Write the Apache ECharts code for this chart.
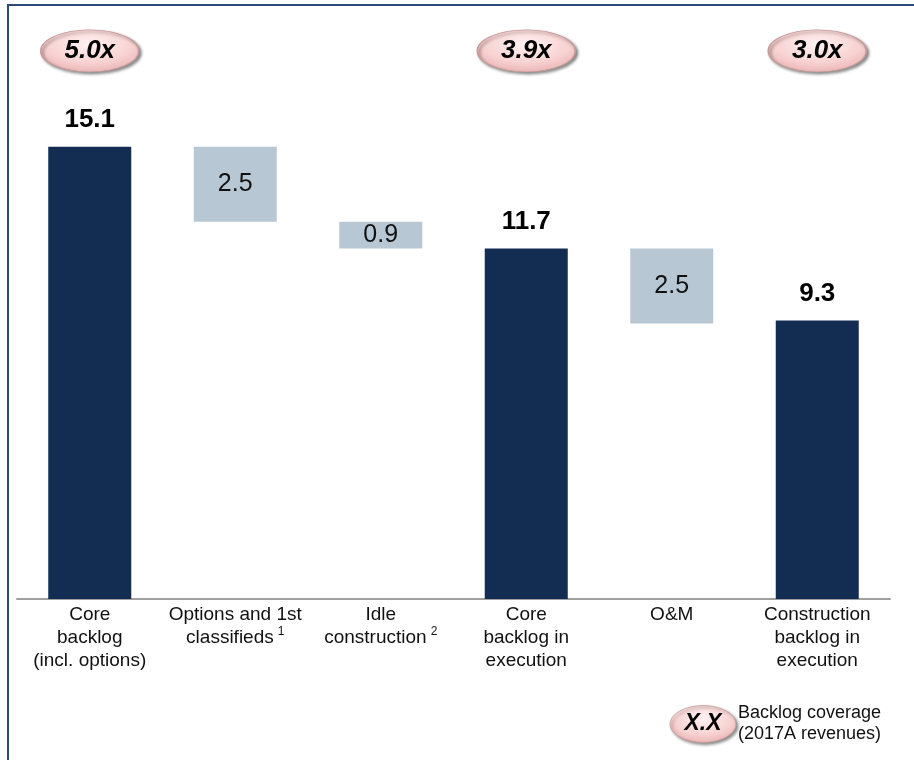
<!DOCTYPE html>
<html>
<head>
<meta charset="utf-8">
<script src="https://cdn.jsdelivr.net/npm/echarts@6/dist/echarts.min.js"></script>
<style>
  html, body { margin: 0; padding: 0; background: #ffffff; }
  #chart { width: 914px; height: 760px; }
</style>
</head>
<body>
<div id="chart"></div>
<script>
// ---- data ----
const categories = [
  'Core\nbacklog\n(incl. options)',
  'Options and 1st\nclassifieds{sup|1}',
  'Idle\nconstruction{sup|2}',
  'Core\nbacklog in\nexecution',
  'O&M',
  'Construction\nbacklog in\nexecution'
];
const totals   = [15.1, null, null, 11.7, null, 9.3];
const deltas   = [null, 2.5, 0.9, null, 2.5, null];
const coverage = ['5.0x', null, null, '3.9x', null, '3.0x'];
const legendBadge = 'X.X';
const legendText = 'Backlog coverage\n(2017A revenues)';

// ---- derived waterfall bases ----
const bases = [];
let level = 0;
categories.forEach((c, i) => {
  if (totals[i] != null) { level = totals[i]; bases.push(0); }
  else { level = level - deltas[i]; bases.push(level); }
});

const FONT = 'Arial, "Liberation Sans", sans-serif';
const DARK = '#132d52';
const LIGHT = '#b7c7d4';
const BADGE_LEVEL = 18.3;

const badgeFill = {
  type: 'radial', x: 0.5, y: 0.35, r: 0.7,
  colorStops: [
    { offset: 0, color: '#fff2f2' },
    { offset: 0.6, color: '#f8d2d2' },
    { offset: 1, color: '#e8b0b0' }
  ]
};

const mainData = categories.map((c, i) => {
  if (totals[i] != null) {
    return {
      value: totals[i],
      itemStyle: { color: DARK },
      label: {
        show: true, position: 'top', distance: 14,
        fontSize: 26, fontWeight: 'bold', color: '#000', fontFamily: FONT,
        formatter: String(totals[i].toFixed(1))
      }
    };
  }
  return {
    value: deltas[i],
    itemStyle: { color: LIGHT },
    label: {
      show: true, position: 'inside',
      fontSize: 25, color: '#111', fontFamily: FONT,
      formatter: String(deltas[i].toFixed(1))
    }
  };
});

const badgeData = [];
coverage.forEach((c, i) => { if (c) badgeData.push({ value: [i, BADGE_LEVEL], name: c }); });

const chart = echarts.init(document.getElementById('chart'), null, { renderer: 'canvas' });
chart.setOption({
  animation: false,
  backgroundColor: '#ffffff',
  grid: { left: 17, right: 24, top: 0, bottom: 161, containLabel: false },
  xAxis: {
    type: 'category',
    data: categories,
    axisLine: { show: true, lineStyle: { color: '#a0a0a0', width: 2 } },
    axisTick: { show: false },
    axisLabel: {
      interval: 0, margin: 4,
      fontFamily: FONT, fontSize: 19, lineHeight: 23, color: '#111',
      rich: { sup: { fontSize: 12, verticalAlign: 'top', padding: [0, 0, 8, 4], fontFamily: FONT, color: '#111' } }
    },
    splitLine: { show: false }
  },
  yAxis: { type: 'value', min: 0, max: 20, show: false, splitLine: { show: false } },
  series: [
    {
      type: 'bar', stack: 'w', barWidth: 83,
      data: bases,
      itemStyle: { color: 'transparent' },
      silent: true
    },
    {
      type: 'bar', stack: 'w', barWidth: 83,
      data: mainData
    },
    {
      type: 'scatter',
      data: badgeData,
      symbol: 'circle',
      symbolSize: [98, 42],
      itemStyle: {
        opacity: 1,
        color: badgeFill,
        borderColor: '#c99a9a', borderWidth: 1,
        shadowColor: 'rgba(0,0,0,0.45)', shadowBlur: 3, shadowOffsetY: 2, shadowOffsetX: 2
      },
      label: {
        show: true, position: 'inside',
        formatter: p => p.name,
        fontFamily: FONT, fontSize: 26, fontWeight: 'bold', fontStyle: 'italic', color: '#000'
      },
      emphasis: { disabled: true },
      z: 5
    }
  ],
  graphic: [
    {
      type: 'rect', z: -1, silent: true,
      shape: { x: 8, y: 5, width: 1000, height: 1000 },
      style: { fill: 'none', stroke: '#2e4a76', lineWidth: 2 }
    },
    {
      type: 'circle', silent: true,
      x: 703, y: 724, scaleY: 0.56,
      shape: { cx: 0, cy: 0, r: 33 },
      style: {
        fill: badgeFill, stroke: '#c99a9a', lineWidth: 1,
        shadowColor: 'rgba(0,0,0,0.45)', shadowBlur: 3, shadowOffsetY: 2, shadowOffsetX: 2
      }
    },
    {
      type: 'text', silent: true, x: 703, y: 724,
      style: {
        text: legendBadge, fontFamily: FONT, fontSize: 23, fontWeight: 'bold', fontStyle: 'italic',
        fill: '#000', align: 'center', verticalAlign: 'middle'
      }
    },
    {
      type: 'text', silent: true, x: 738, y: 724,
      style: {
        text: legendText, fontFamily: FONT, fontSize: 18, lineHeight: 21,
        fill: '#111', align: 'left', verticalAlign: 'middle'
      }
    }
  ]
});
</script>
</body>
</html>
